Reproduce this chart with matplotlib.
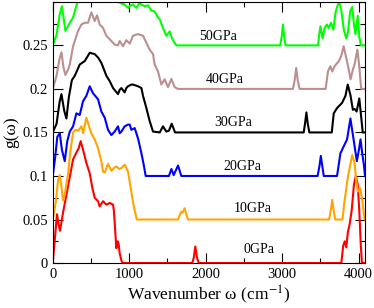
import matplotlib
matplotlib.use("Agg")
import matplotlib.pyplot as plt
from matplotlib.ticker import MultipleLocator

plt.rcParams["font.family"] = ["Liberation Serif", "DejaVu Serif"]
plt.rcParams["mathtext.fontset"] = "stix"

# === Data: g(w) per pressure (raw, before offset) ===
pressures = ["0GPa", "10GPa", "20GPa", "30GPa", "40GPa", "50GPa"]
offsets = [0.0, 0.05, 0.10, 0.15, 0.20, 0.25]
colors = ["red", "orange", "blue", "black", "rosybrown", "lime"]

w_0 = [0, 30, 56, 75, 95, 135, 200, 266, 310, 340, 366, 397, 440, 484, 519, 549,
       593, 614, 658, 702, 745, 789, 800, 815, 832, 850, 862, 876, 898, 911,
       1825, 1845, 1865, 1888, 1910, 3775, 3800, 3820, 3840, 3860, 3885, 3910,
       3940, 3965, 3990, 4010, 4030, 4045, 4085]
g_0 = [0, 0.030, 0.056, 0.045, 0.037, 0.058, 0.088, 0.119, 0.127, 0.132, 0.140,
       0.130, 0.115, 0.103, 0.086, 0.075, 0.071, 0.065, 0.071, 0.067, 0.069,
       0.067, 0.060, 0.040, 0.017, 0.025, 0.022, 0.011, 0.003, 0,
       0, 0.006, 0.019, 0.006, 0, 0, 0.02, 0.025, 0.018, 0.035, 0.045, 0.060,
       0.090, 0.100, 0.090, 0.060, 0.020, 0, 0]

w_10 = [0, 40, 70, 92, 110, 135, 160, 200, 230, 266, 300, 331, 375, 397, 440, 475,
        505, 549, 593, 614, 636, 658, 680, 723, 767, 800, 832, 870, 898, 941, 985,
        1028, 1050, 1072, 1100, 1640, 1660, 1682, 1700, 1725, 1747, 1770,
        3615, 3640, 3656, 3672, 3695, 3790, 3815, 3839, 3861, 3882, 3917, 3948,
        3970, 3991, 4022, 4048, 4078, 4085]
g_10 = [0, 0.020, 0.045, 0.051, 0.040, 0.022, 0.030, 0.052, 0.078, 0.100, 0.103,
        0.102, 0.107, 0.099, 0.117, 0.107, 0.099, 0.092, 0.082, 0.074, 0.067,
        0.055, 0.054, 0.064, 0.056, 0.059, 0.061, 0.058, 0.059, 0.063, 0.055,
        0.032, 0.020, 0.010, 0, 0, 0.005, 0.009, 0.008, 0.013, 0.006, 0,
        0, 0.012, 0.0226, 0.012, 0, 0, 0.020, 0.035, 0.049, 0.058, 0.074, 0.065,
        0.045, 0.032, 0.036, 0.023, 0, 0]

w_20 = [0, 30, 60, 92, 120, 157, 190, 223, 266, 310, 353, 397, 440, 484, 527, 593,
        636, 680, 723, 767, 810, 854, 876, 898, 941, 985, 1007, 1028, 1072, 1116,
        1160, 1190, 1216, 1520, 1552, 1582, 1639, 1682, 3465, 3490, 3507, 3525,
        3545, 3719, 3763, 3806, 3850, 3894, 3930, 3978, 4005, 4026, 4050, 4070,
        4085]
g_20 = [0, 0.020, 0.045, 0.049, 0.030, 0.017, 0.040, 0.051, 0.057, 0.072, 0.070,
        0.086, 0.092, 0.103, 0.095, 0.088, 0.074, 0.067, 0.053, 0.047, 0.051,
        0.057, 0.049, 0.051, 0.057, 0.059, 0.059, 0.053, 0.055, 0.043, 0.026,
        0.013, 0, 0, 0.008, 0.001, 0.012, 0, 0, 0.012, 0.023, 0.012, 0, 0,
        0.026, 0.034, 0.042, 0.066, 0.045, 0.017, 0.030, 0.042, 0.025, 0.013, 0]

w_30 = [0, 50, 90, 114, 150, 179, 210, 250, 288, 353, 419, 484, 549, 593, 636, 702,
        745, 789, 854, 876, 898, 941, 963, 985, 1028, 1050, 1116, 1160, 1181, 1225,
        1268, 1312, 1400, 1442, 1486, 1520, 1556, 1600, 3283, 3300, 3318, 3336,
        3357, 3650, 3676, 3719, 3785, 3829, 3859, 3894, 3926, 3948, 3975, 4010,
        4030, 4055, 4085]
g_30 = [0, 0.010, 0.035, 0.044, 0.025, 0.016, 0.040, 0.060, 0.065, 0.078, 0.082,
        0.0915, 0.090, 0.086, 0.080, 0.065, 0.059, 0.051, 0.044, 0.049, 0.051,
        0.046, 0.051, 0.053, 0.055, 0.055, 0.053, 0.051, 0.042, 0.028, 0.013,
        0.001, 0, 0.007, 0.001, 0.002, 0.010, 0, 0, 0.010, 0.023, 0.010, 0,
        0, 0.022, 0.028, 0.034, 0.042, 0.055, 0.043, 0.026, 0.027, 0.024, 0.039,
        0.022, 0, 0]

w_40 = [0, 50, 90, 114, 140, 165, 200, 223, 266, 331, 375, 419, 462, 505, 549, 580,
        614, 658, 702, 767, 810, 854, 876, 919, 963, 1007, 1050, 1116, 1181, 1225,
        1268, 1312, 1333, 1377, 1421, 1464, 1508, 1552, 1595, 1639, 3142, 3165,
        3185, 3205, 3229, 3570, 3600, 3631, 3656, 3687, 3743, 3774, 3806, 3838,
        3861, 3896, 3926, 3948, 3985, 4005, 4035, 4085]
g_40 = [0, 0.015, 0.035, 0.042, 0.025, 0.016, 0.022, 0.028, 0.049, 0.0665, 0.074,
        0.076, 0.076, 0.088, 0.078, 0.0845, 0.074, 0.070, 0.061, 0.055, 0.051,
        0.050, 0.055, 0.049, 0.056, 0.052, 0.061, 0.063, 0.061, 0.053, 0.045,
        0.040, 0.028, 0.020, 0.005, 0.011, 0.002, 0.0115, 0.002, 0, 0, 0.010,
        0.024, 0.010, 0, 0, 0.020, 0.026, 0.020, 0.026, 0.032, 0.038, 0.049,
        0.036, 0.027, 0.011, 0.022, 0.028, 0.045, 0.030, 0, 0]

w_50 = [0, 50, 90, 120, 145, 165, 200, 223, 266, 301, 331, 380, 450, 520, 600, 700,
        800, 854, 900, 941, 985, 1020, 1050, 1094, 1130, 1160, 1203, 1247, 1290,
        1333, 1377, 1400, 1442, 1486, 1530, 1565, 1617, 2975, 2995, 3011, 3028,
        3045, 3470, 3485, 3502, 3530, 3556, 3586, 3610, 3640, 3670, 3700, 3730,
        3750, 3775, 3808, 3839, 3862, 3890, 3917, 3939, 3960, 3990, 4010, 4030,
        4085]
g_50 = [0, 0.012, 0.035, 0.045, 0.030, 0.017, 0.022, 0.026, 0.032, 0.043, 0.052,
        0.060, 0.070, 0.080, 0.075, 0.065, 0.055, 0.050, 0.048, 0.047, 0.043,
        0.046, 0.047, 0.043, 0.048, 0.047, 0.045, 0.046, 0.040, 0.039, 0.032,
        0.030, 0.020, 0.011, 0.016, 0.007, 0, 0, 0.010, 0.024, 0.010, 0, 0,
        0.012, 0.022, 0.008, 0.020, 0.024, 0.020, 0.026, 0.018, 0.038, 0.047,
        0.049, 0.040, 0.018, 0.008, 0.015, 0.039, 0.044, 0.025, 0.013, 0.034,
        0.010, 0, 0]

spectra = [(w_0, g_0), (w_10, g_10), (w_20, g_20),
           (w_30, g_30), (w_40, g_40), (w_50, g_50)]

# === Plot ===
fig = plt.figure(figsize=(3.74, 3.08), dpi=100)
ax = fig.add_axes([0.141, 0.146, 0.835, 0.848])

for (w, g), off, c in zip(spectra, offsets, colors):
    ax.plot(w, [v + off for v in g], color=c, linewidth=1.5)

# pressure labels
label_x = [2700, 2610, 2485, 2360, 2255, 2165]
label_y = [0.016, 0.063, 0.111, 0.161, 0.211, 0.260]
for name, lx, ly in zip(pressures, label_x, label_y):
    ax.text(lx, ly, name, ha="center", va="center", fontsize=10)

ax.set_xlim(0, 4085)
ax.set_ylim(0, 0.3)
ax.set_yticks([0, 0.05, 0.1, 0.15, 0.2, 0.25])
ax.set_yticklabels(["0", "0.05", "0.1", "0.15", "0.2", "0.25"])
ax.set_xticks([0, 1000, 2000, 3000, 4000])
ax.xaxis.set_minor_locator(MultipleLocator(500))
ax.yaxis.set_minor_locator(MultipleLocator(0.025))
ax.tick_params(which="both", direction="in", top=True, right=True, labelsize=10.5)
ax.tick_params(which="major", length=7, width=0.8)
ax.tick_params(which="minor", length=3.5, width=0.8)

ax.set_xlabel("Wavenumber ω (cm$^{-1}$)", fontsize=12.5, labelpad=2)
ax.set_ylabel("g(ω)", fontsize=12.5, labelpad=2)

plt.savefig("out.png", dpi=100)
